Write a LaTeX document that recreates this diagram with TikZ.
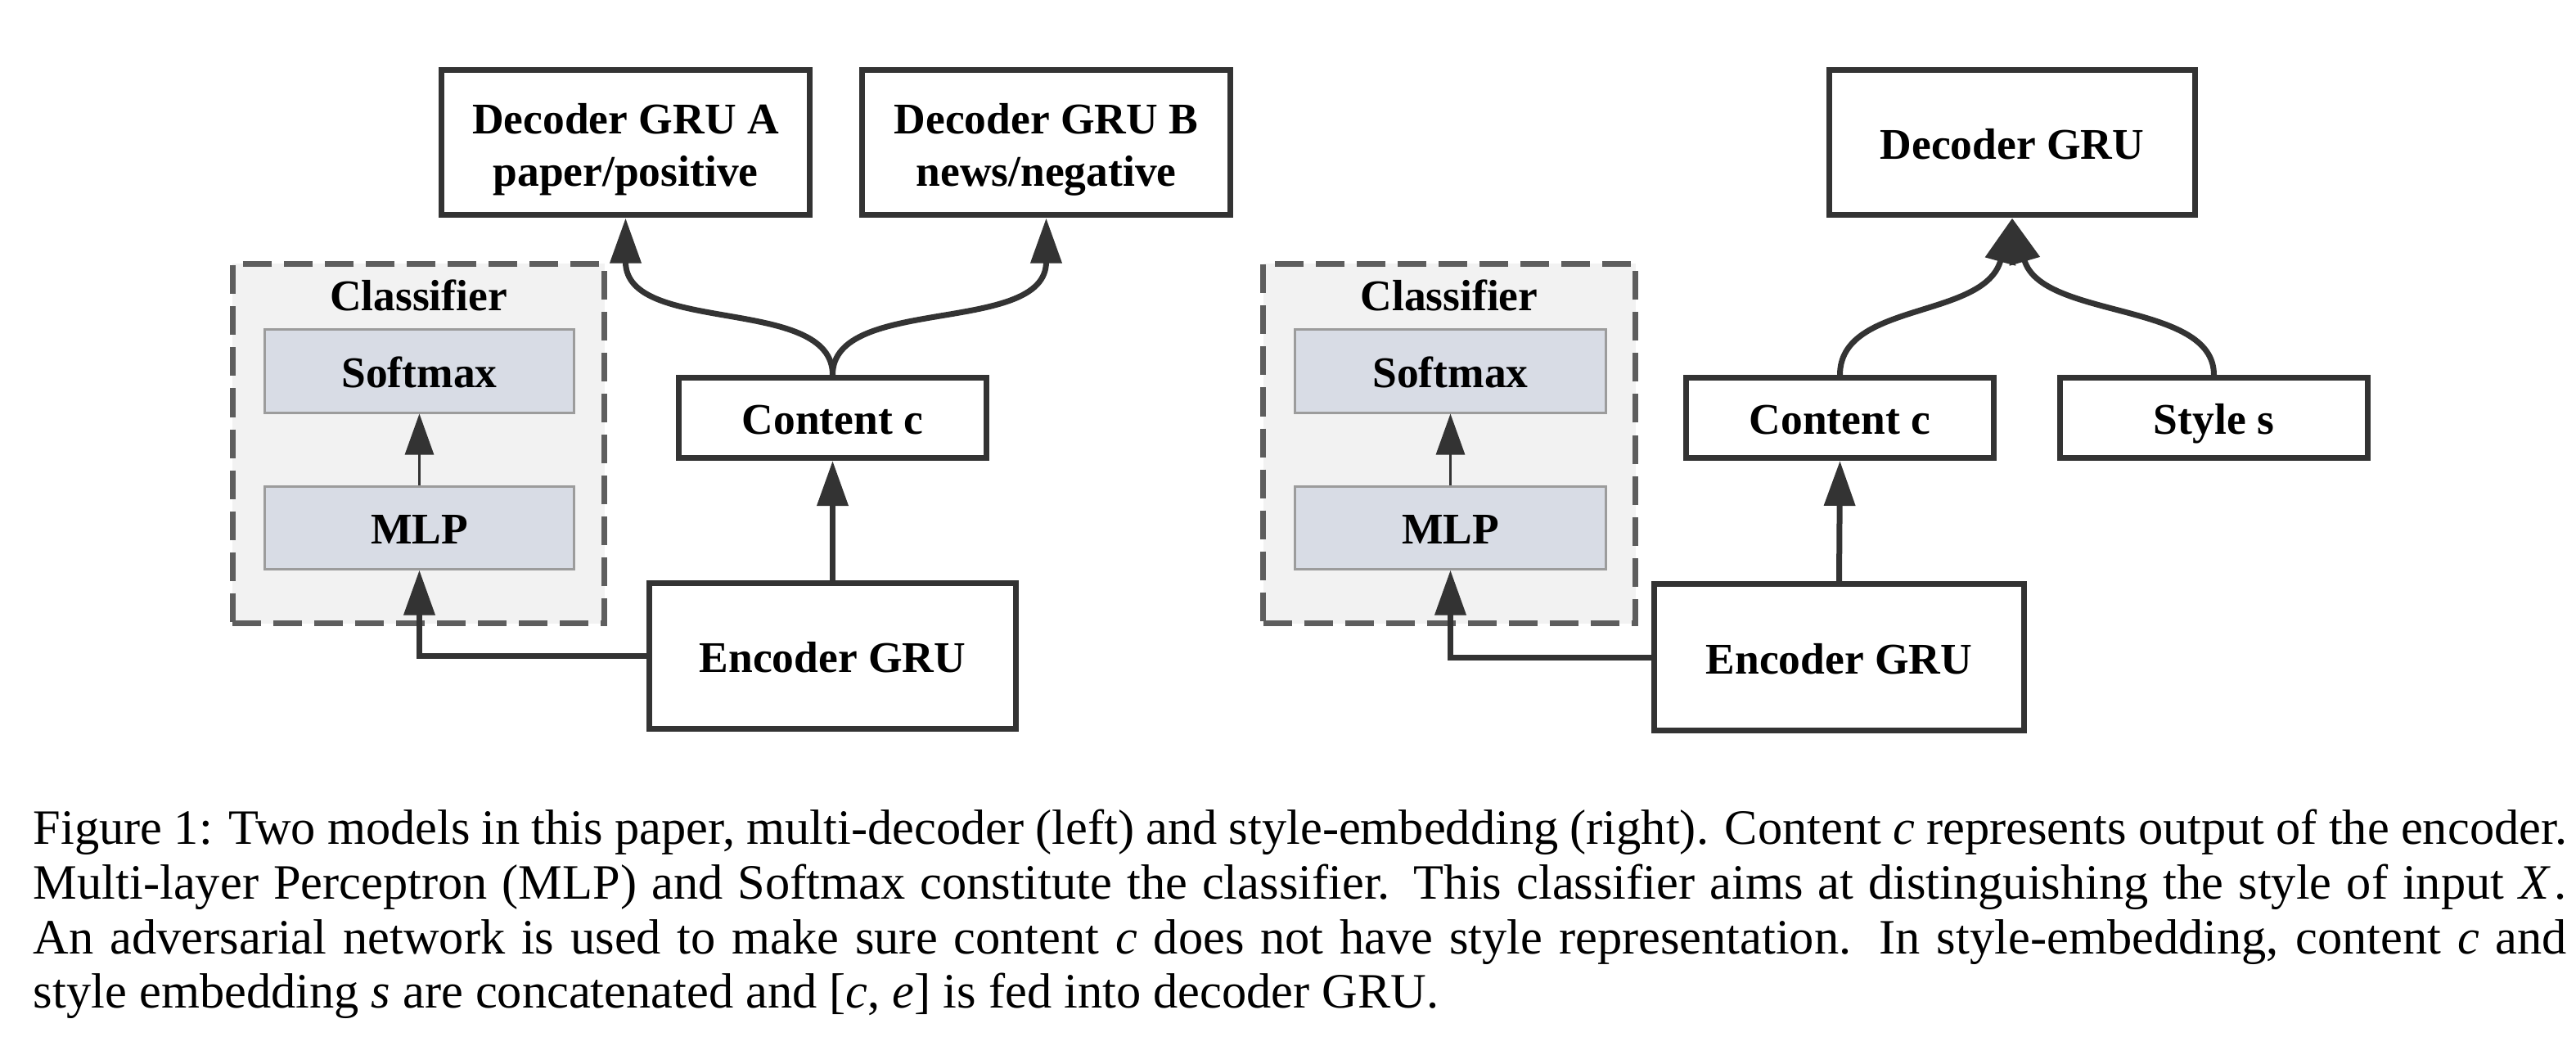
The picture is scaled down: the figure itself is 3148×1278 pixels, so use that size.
\documentclass[tikz,border=0pt]{standalone}
\usepackage{fontspec}
\setmainfont{Liberation Serif}
\usetikzlibrary{arrows.meta}
\definecolor{ink}{HTML}{333333}
\definecolor{dashgray}{HTML}{5E5E5E}
\definecolor{clsfill}{HTML}{F2F2F2}
\definecolor{layerfill}{HTML}{D8DCE5}
\definecolor{layerline}{HTML}{9C9C9C}
\newcommand\capline[1]{\hbox to 619.2pt{#1}}
\begin{document}
\begin{tikzpicture}[x=0.2pt,y=-0.2pt,
  lbl/.style={font=\bfseries\fontsize{10.7pt}{12pt}\selectfont, text=black},
  oneline/.style={text height=0.8em, text depth=0pt},
  blk/.style={lbl, draw=ink, line width=1.4pt, fill=white, inner sep=0pt, align=center},
  bigblk/.style={blk, minimum width=90pt, minimum height=35.4pt},
  twoline/.style={bigblk, font=\bfseries\fontsize{10.7pt}{12.8pt}\selectfont},
  smallblk/.style={blk, oneline, minimum width=75.2pt, minimum height=19.6pt},
  layer/.style={lbl, oneline, draw=layerline, line width=0.6pt, fill=layerfill, inner sep=0pt, minimum width=75.6pt, minimum height=20.2pt},
  clsbox/.style={draw=dashgray, line width=1.4pt, dash pattern=on 7pt off 3pt, fill=clsfill, inner sep=0pt, minimum width=90.9pt, minimum height=87.8pt},
  conn/.style={draw=ink, line width=1.4pt, -{Triangle[length=11pt,width=7.4pt]}},
  thinconn/.style={draw=ink, line width=0.6pt, -{Triangle[length=10pt,width=7pt]}},
  captext/.style={anchor=base west, inner sep=0pt, font=\fontsize{12.08pt}{13.34pt}\selectfont}
]
\useasboundingbox (0,0) rectangle (3148,1278);

% ---------- left model: multi-decoder ----------
\node[clsbox] (clsL) at (511.5,542) {};
\node[lbl, anchor=base] (clsLlabel) at (511.5,380) {Classifier};
\node[layer] (softL) at (512.5,453.5) {Softmax};
\node[layer] (mlpL) at (512.5,644.5) {MLP};
\node[twoline] (decA) at (764.5,174.5) {\rule{0pt}{10.6pt}Decoder GRU A\\paper/positive};
\node[twoline] (decB) at (1278.5,174.5) {\rule{0pt}{10.6pt}Decoder GRU B\\news/negative};
\node[smallblk] (contL) at (1017.5,510.5) {Content c};
\node[bigblk, oneline, minimum width=89.6pt, minimum height=35.6pt] (encL) at (1017.5,801.5) {Encoder GRU};

\draw[conn] (encL.north) -- (contL.south);
\draw[conn] (encL.west) -| (mlpL.south);
\draw[thinconn] (mlpL.north) -- (softL.south);
\draw[conn] (contL.north) .. controls +(0,-98) and +(0,144) .. (decA.south);
\draw[conn] (contL.north) .. controls +(0,-98) and +(0,144) .. (decB.south);

% ---------- right model: style-embedding ----------
\node[clsbox, minimum width=91pt] (clsR) at (1771,542) {};
\node[lbl, anchor=base] (clsRlabel) at (1771,380) {Classifier};
\node[layer, minimum width=76pt] (softR) at (1772.5,453.5) {Softmax};
\node[layer, minimum width=76pt] (mlpR) at (1772.5,644.5) {MLP};
\node[bigblk, oneline, minimum width=89.4pt] (decR) at (2459,174.5) {Decoder GRU};
\node[smallblk] (contR) at (2248.5,510.5) {Content c};
\node[smallblk] (styleR) at (2705.5,510.5) {Style s};
\node[bigblk, oneline, minimum width=90.4pt, minimum height=35.8pt] (encR) at (2247.5,803) {Encoder GRU};

\draw[conn] (encR.north) -- (contR.south);
\draw[conn] (encR.west) -| (mlpR.south);
\draw[thinconn] (mlpR.north) -- (softR.south);
\draw[conn] (contR.north) .. controls +(0,-90) and +(-34,124) .. (decR.south);
\draw[conn] (styleR.north) .. controls +(0,-90) and +(36,124) .. (decR.south);

% ---------- caption ----------
\node[captext] (cap1) at (40,1031.7) {\capline{Figure 1: Two models in this paper, multi-decoder (left) and style-embedding (right). Content \textit{c} represents output of the encoder.}};
\node[captext] (cap2) at (40,1098.4) {\capline{Multi-layer Perceptron (MLP) and Softmax constitute the classifier. This classifier aims at distinguishing the style of input \textit{X}\kern1pt.}};
\node[captext] (cap3) at (40,1165.1) {\capline{An adversarial network is used to make sure content \textit{c} does not have style representation. In style-embedding, content \textit{c} and}};
\node[captext] (cap4) at (40,1231.8) {style embedding \textit{s} are concatenated and [\textit{c}, \textit{e}] is fed into decoder GRU.};
\end{tikzpicture}
\end{document}
